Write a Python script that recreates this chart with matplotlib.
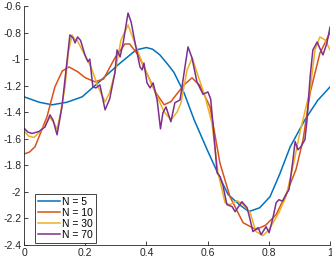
import matplotlib
matplotlib.use('Agg')
import matplotlib.pyplot as plt

# values
x5 = [0, 0.05, 0.092, 0.14, 0.19, 0.242, 0.307, 0.366, 0.40, 0.42, 0.444, 0.47, 0.49,
      0.523, 0.556, 0.60, 0.64, 0.667, 0.706, 0.735, 0.77, 0.804, 0.835, 0.87, 0.918,
      0.96, 1.0]
y5 = [-1.284, -1.325, -1.344, -1.325, -1.284, -1.179, -1.044, -0.931, -0.913, -0.925,
      -0.968, -1.04, -1.10, -1.254, -1.457, -1.69, -1.893, -2.02, -2.10, -2.148, -2.12,
      -2.036, -1.87, -1.66, -1.457, -1.31, -1.21]

x10 = [0, 0.018, 0.036, 0.075, 0.101, 0.125, 0.147, 0.176, 0.20, 0.232, 0.26, 0.297,
       0.33, 0.345, 0.373, 0.40, 0.43, 0.458, 0.48, 0.523, 0.549, 0.575, 0.608, 0.64,
       0.673, 0.716, 0.758, 0.79, 0.824, 0.86, 0.889, 0.912, 0.935, 0.967, 1.0]
y10 = [-1.715, -1.70, -1.66, -1.435, -1.209, -1.09, -1.059, -1.096, -1.14, -1.171,
       -1.15, -0.991, -0.886, -0.886, -0.968, -1.10, -1.25, -1.344, -1.32, -1.194,
       -1.141, -1.20, -1.36, -1.78, -2.036, -2.232, -2.284, -2.25, -2.171, -2.0, -1.83,
       -1.607, -1.254, -0.955, -0.80]

x30 = [0, 0.015, 0.033, 0.05, 0.065, 0.085, 0.098, 0.108, 0.12, 0.134, 0.145, 0.157,
       0.165, 0.173, 0.19, 0.219, 0.242, 0.265, 0.28, 0.297, 0.317, 0.34, 0.359, 0.37,
       0.392, 0.425, 0.458, 0.48, 0.50, 0.513, 0.533, 0.55, 0.565, 0.592, 0.614, 0.634,
       0.657, 0.673, 0.696, 0.716, 0.739, 0.758, 0.781, 0.801, 0.833, 0.856, 0.879,
       0.902, 0.935, 0.951, 0.967, 0.984, 1.0]
y30 = [-1.54, -1.58, -1.59, -1.55, -1.51, -1.44, -1.48, -1.53, -1.40, -1.209, -0.95,
       -0.818, -0.85, -0.856, -0.931, -1.059, -1.209, -1.322, -1.25, -1.104, -0.856,
       -0.743, -0.86, -0.93, -1.059, -1.232, -1.397, -1.457, -1.40, -1.329, -1.081,
       -0.99, -1.10, -1.284, -1.48, -1.856, -2.081, -2.096, -2.066, -2.096, -2.156,
       -2.299, -2.329, -2.284, -2.156, -2.036, -1.81, -1.55, -1.232, -0.931, -0.833,
       -0.856, -0.93]

x70 = [0, 0.013, 0.026, 0.049, 0.069, 0.085, 0.095, 0.108, 0.124, 0.141, 0.15, 0.16,
       0.167, 0.175, 0.185, 0.199, 0.209, 0.215, 0.225, 0.235, 0.248, 0.265, 0.28,
       0.297, 0.304, 0.314, 0.324, 0.34, 0.35, 0.363, 0.379, 0.386, 0.392, 0.402,
       0.412, 0.422, 0.435, 0.446, 0.454, 0.464, 0.48, 0.493, 0.51, 0.526, 0.536,
       0.549, 0.565, 0.585, 0.601, 0.61, 0.618, 0.624, 0.631, 0.641, 0.65, 0.663,
       0.68, 0.69, 0.712, 0.729, 0.739, 0.748, 0.765, 0.775, 0.791, 0.801, 0.813,
       0.824, 0.833, 0.845, 0.856, 0.866, 0.879, 0.886, 0.895, 0.905, 0.918, 0.925,
       0.935, 0.944, 0.958, 0.967, 0.977, 0.99, 1.0]
y70 = [-1.52, -1.55, -1.56, -1.545, -1.51, -1.42, -1.46, -1.57, -1.36, -1.006, -0.818,
       -0.84, -0.878, -0.833, -0.86, -0.968, -1.02, -1.0, -1.209, -1.217, -1.194,
       -1.382, -1.3, -1.104, -0.931, -0.983, -0.878, -0.653, -0.72, -0.878, -1.059,
       -1.081, -1.03, -1.179, -1.217, -1.179, -1.307, -1.525, -1.404, -1.36, -1.472,
       -1.329, -1.307, -1.059, -0.908, -0.991, -1.17, -1.265, -1.247, -1.30, -1.50,
       -1.66, -1.856, -1.886, -1.95, -2.096, -2.111, -2.149, -2.074, -2.119, -2.209,
       -2.299, -2.269, -2.322, -2.262, -2.307, -2.2, -2.081, -2.059, -2.07, -2.021,
       -1.983, -1.758, -1.62, -1.683, -1.66, -1.607, -1.457, -1.134, -0.931, -0.871,
       -0.92, -0.968, -0.878, -0.76]

labels = ['N = 5', 'N = 10', 'N = 30', 'N = 70']
colors = ['#0072BD', '#D95319', '#EDB120', '#7E2F8E']
xticks = [0, 0.2, 0.4, 0.6, 0.8, 1]
yticks = [-2.4, -2.2, -2, -1.8, -1.6, -1.4, -1.2, -1, -0.8, -0.6]

plt.rcParams['font.family'] = ['Liberation Sans', 'DejaVu Sans']
fig = plt.figure(figsize=(3.32, 2.62), dpi=100)
ax = fig.add_axes([24/332, 17/262, 306/332, 239/262])

series = [(x5, y5), (x10, y10), (x30, y30), (x70, y70)]
for (xs, ys), lab, c in zip(series, labels, colors):
    ax.plot(xs, ys, color=c, lw=1.1, label=lab)

ax.set_xlim(0, 1)
ax.set_ylim(-2.4, -0.6)
ax.set_xticks(xticks)
ax.set_xticklabels(['%g' % t for t in xticks])
ax.set_yticks(yticks)
ax.set_yticklabels(['%g' % t for t in yticks])
ax.tick_params(direction='in', length=3, width=0.6, labelsize=7.5,
               colors='#262626', pad=2)
for s in ['top', 'right']:
    ax.spines[s].set_visible(False)
for s in ['left', 'bottom']:
    ax.spines[s].set_color('#262626')
    ax.spines[s].set_linewidth(0.6)

leg = ax.legend(loc='lower left', bbox_to_anchor=(11/306, 2/239), borderaxespad=0,
                fontsize=7.5, handlelength=2.1, handletextpad=0.2, labelspacing=0.1,
                borderpad=0.3, fancybox=False, framealpha=1)
leg.get_frame().set_edgecolor('#262626')
leg.get_frame().set_linewidth(0.6)

fig.savefig('out.png', dpi=100)
